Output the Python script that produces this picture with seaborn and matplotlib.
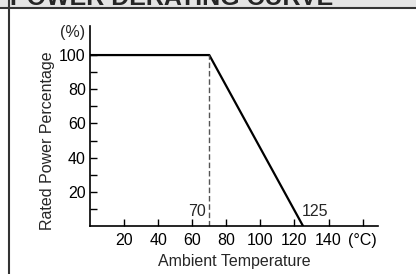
import matplotlib
matplotlib.use("Agg")
import matplotlib.pyplot as plt
import pandas as pd
import seaborn as sns
from matplotlib.patches import Rectangle
from matplotlib.lines import Line2D

# derating curve data
temperature = [0, 70, 125]
power_pct = [100, 100, 0]
knee_temp = 70
end_temp = 125
x_ticks = [20, 40, 60, 80, 100, 120, 140, 160]
x_tick_labels = ["20", "40", "60", "80", "100", "120", "140", "(°C)"]
y_ticks = [20, 40, 60, 80, 100]
y_minor = [10, 30, 50, 70, 90]

FS = 11.5

sns.set_style("ticks")
plt.rcParams["font.family"] = ["Liberation Sans", "DejaVu Sans"]

fig = plt.figure(figsize=(4.16, 2.74), dpi=100)
ax = fig.add_axes([90 / 416, 1 - 226 / 274, 288 / 416, 200 / 274])

df = pd.DataFrame({"temp": temperature, "power": power_pct})
sns.lineplot(data=df, x="temp", y="power", color="black", linewidth=1.6, ax=ax)
ax.plot([knee_temp, knee_temp], [0, 100], color="#555555", linestyle=(0, (4, 2)), linewidth=1.0)

ax.set_xlim(0, 169)
ax.set_ylim(0, 117)
ax.set_xticks(x_ticks)
ax.set_xticklabels(x_tick_labels)
ax.set_yticks(y_ticks)
ax.set_yticks(y_minor, minor=True)
ax.tick_params(axis="both", which="both", direction="in", color="black", width=1.0,
               labelsize=FS, labelcolor="black")
ax.tick_params(axis="y", which="major", length=5, pad=3)
ax.tick_params(axis="y", which="minor", length=5)
ax.tick_params(axis="x", which="major", length=5, pad=5)
sns.despine(ax=ax)
for s in ["left", "bottom"]:
    ax.spines[s].set_color("black")
    ax.spines[s].set_linewidth(1.2)

ax.set_xlabel("Ambient Temperature", fontsize=FS)
ax.set_ylabel("Rated Power Percentage", fontsize=FS)
ax.xaxis.set_label_coords(0.5, -0.14)
ax.yaxis.set_label_coords(-0.12, 0.425)
ax.text(-3, 113, "(%)", ha="right", va="center", fontsize=FS)
ax.text(knee_temp - 2, 4, "70", ha="right", va="bottom", fontsize=FS)
ax.text(end_temp - 1, 4, "125", ha="left", va="bottom", fontsize=FS)

# header bar and frame
fig.patches.append(Rectangle((0, 1 - 7 / 274), 1, 7 / 274, transform=fig.transFigure,
                             facecolor="#e4e4e4", edgecolor="none", zorder=0))
fig.lines.append(Line2D([0, 1], [1 - 7.5 / 274] * 2, transform=fig.transFigure,
                        color="#333333", linewidth=1.5))
fig.lines.append(Line2D([9 / 416] * 2, [0, 1], transform=fig.transFigure,
                        color="#333333", linewidth=1.5))
fig.text(10 / 416, 1 - 5 / 274, "POWER DERATING CURVE", ha="left", va="baseline",
         fontsize=18, fontweight="bold")

fig.savefig("out.png", dpi=100)
